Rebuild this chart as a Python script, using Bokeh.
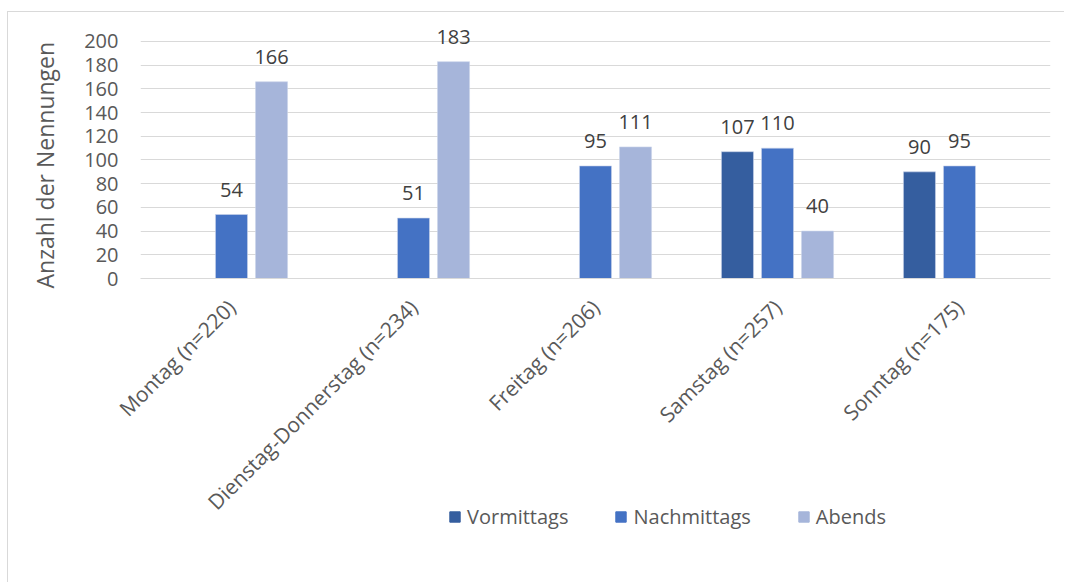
import math
from bokeh.plotting import figure
from bokeh.layouts import column
from bokeh.models import FactorRange, Range1d, ColumnDataSource, Legend, LegendItem, FixedTicker, Title
from bokeh.transform import dodge
from bokeh.core.properties import value
from bokeh.embed import file_html
from bokeh.resources import INLINE

categories = ["Montag (n=220)", "Dienstag-Donnerstag (n=234)", "Freitag (n=206)",
              "Samstag (n=257)", "Sonntag (n=175)"]
series = ["Vormittags", "Nachmittags", "Abends"]
vormittags = [float("nan"), float("nan"), float("nan"), 107, 90]
nachmittags = [54, 51, 95, 110, 95]
abends = [166, 183, 111, 40, float("nan")]
y_ticks = [0, 20, 40, 60, 80, 100, 120, 140, 160, 180, 200]

colors = ["#355E9F", "#4472C4", "#A6B5DA"]
offsets = [-0.22, 0.0, 0.22]
FONT = "Open Sans"
TXT = "#595959"
BORDER = "1px solid #d9d9d9"

W, H1, H2 = 1057, 516, 81
p = figure(x_range=FactorRange(*categories), y_range=Range1d(0, 220.25),
           width=W, height=H1, output_backend="svg", toolbar_location=None,
           min_border_left=132, min_border_top=5, min_border_right=15,
           min_border_bottom=250)
p.styles = {"border-left": BORDER, "border-top": BORDER,
            "margin-top": "11px", "margin-left": "7px"}
p.outline_line_color = None
p.background_fill_color = "white"
p.border_fill_color = "white"

src = ColumnDataSource(dict(cat=categories, v=vormittags, n=nachmittags, a=abends,
                            vl=["" if math.isnan(x) else str(int(x)) for x in vormittags],
                            nl=[str(int(x)) for x in nachmittags],
                            al=["" if math.isnan(x) else str(int(x)) for x in abends]))

for col, lab, c, off in zip(["v", "n", "a"], ["vl", "nl", "al"], colors, offsets):
    p.vbar(x=dodge("cat", off, range=p.x_range), top=col, width=0.176, source=src,
           fill_color=c, line_color="#c9d3ea", line_width=0.6)
    p.text(x=dodge("cat", off, range=p.x_range), y=col, text=lab, source=src,
           text_align="center", text_baseline="alphabetic", y_offset=-25,
           text_font=value(FONT), text_font_size="20px", text_color="#404040")

p.yaxis.ticker = FixedTicker(ticks=y_ticks)
p.yaxis.axis_line_color = None
p.yaxis.major_tick_line_color = None
p.yaxis.minor_tick_line_color = None
p.yaxis.major_label_text_font = FONT
p.yaxis.major_label_text_font_size = "20px"
p.yaxis.major_label_text_color = TXT
p.yaxis.major_label_standoff = 16

ytitle = Title(text="Anzahl der Nennungen", align="left", vertical_align="top", offset=-10,
               text_font=FONT, text_font_size="23px", text_font_style="normal",
               text_color=TXT, standoff=38)
p.add_layout(ytitle, "left")

p.xaxis.axis_line_color = "#d9d9d9"
p.xaxis.major_tick_line_color = None
p.xaxis.minor_tick_line_color = None
p.xaxis.major_label_orientation = math.pi / 4
p.xaxis.major_label_text_font = FONT
p.xaxis.major_label_text_font_size = "21px"
p.xaxis.major_label_text_color = TXT
p.xaxis.major_label_standoff = 19

p.xgrid.grid_line_color = None
p.ygrid.grid_line_color = "#d9d9d9"
p.ygrid.grid_line_width = 1.2

# legend strip below the chart (overlaps the axis area slightly, transparent)
lg = figure(x_range=Range1d(0, 1), y_range=Range1d(0, 1), width=W, height=H2,
            output_backend="svg", toolbar_location=None,
            min_border_left=0, min_border_right=0, min_border_top=0, min_border_bottom=0)
lg.styles = {"border-left": BORDER, "margin-left": "7px", "margin-top": "-26px"}
lg.axis.visible = False
lg.grid.visible = False
lg.outline_line_color = None
lg.background_fill_alpha = 0
lg.border_fill_alpha = 0
# legend swatches only (kept outside the visible range)
dummies = [lg.vbar(x=[-5], top=[0], width=0.1, fill_color=c, line_color=c) for c in colors]
legend = Legend(items=[LegendItem(label=s, renderers=[r]) for s, r in zip(series, dummies)],
                orientation="horizontal", location=(308, 52), spacing=46,
                label_standoff=6, glyph_width=13, glyph_height=13, padding=0, margin=0,
                border_line_color=None, background_fill_alpha=0,
                label_text_font=FONT, label_text_font_size="20px", label_text_color=TXT)
lg.add_layout(legend, "center")

layout = column(p, lg, spacing=0)
open("out.html", "w").write(file_html(layout, INLINE))
